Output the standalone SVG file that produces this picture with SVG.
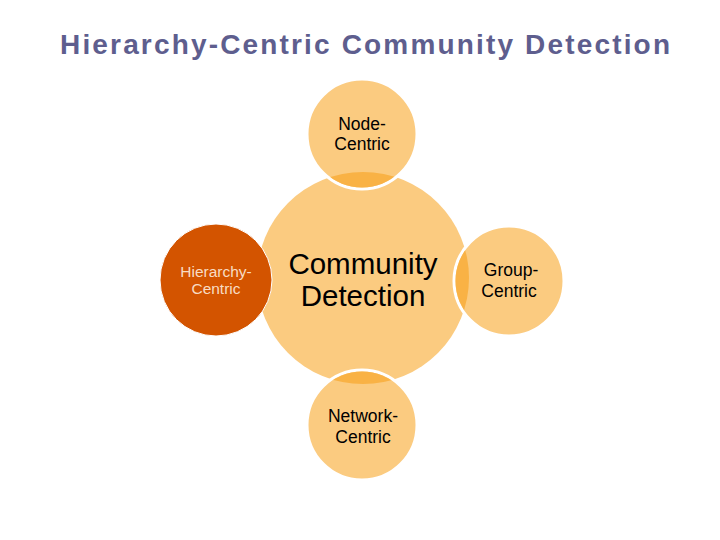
<svg xmlns="http://www.w3.org/2000/svg" width="720" height="540" viewBox="0 0 720 540">
<style>
.t{font-family:"Liberation Sans",Arial,sans-serif;text-anchor:middle;fill:#000}
.sm{fill:#FBCB80;stroke:#fff;stroke-width:3}
.ov{fill:#F9B245}
.s{font-size:17.5px}
</style>
<defs>
<clipPath id="big"><circle cx="363" cy="278" r="106"/></clipPath>
</defs>
<rect width="720" height="540" fill="#fff"/>
<text x="60" y="54" font-family="Liberation Sans,Arial,sans-serif" font-weight="bold" font-size="28" fill="#5E5E8E" textLength="610" lengthAdjust="spacing">Hierarchy-Centric Community Detection</text>
<g id="connectors"></g>
<g id="center">
<circle cx="363" cy="278" r="106" fill="#FBCB80"/>
<text class="t" x="363" y="274" font-size="29.5">Community</text>
<text class="t" x="363" y="306" font-size="29.5">Detection</text>
</g>
<g id="node-centric">
<circle class="sm" cx="362" cy="134" r="55"/>
<circle class="ov" cx="362" cy="134" r="53.5" clip-path="url(#big)"/>
<text class="t s" x="362" y="130">Node-</text>
<text class="t s" x="362" y="150">Centric</text>
</g>
<g id="group-centric">
<circle class="sm" cx="509" cy="281" r="55"/>
<circle class="ov" cx="509" cy="281" r="53.5" clip-path="url(#big)"/>
<text class="t s" x="511" y="276">Group-</text>
<text class="t s" x="509" y="297">Centric</text>
</g>
<g id="network-centric">
<circle class="sm" cx="362" cy="425" r="55"/>
<circle class="ov" cx="362" cy="425" r="53.5" clip-path="url(#big)"/>
<text class="t s" x="363" y="422">Network-</text>
<text class="t s" x="363" y="443">Centric</text>
</g>
<g id="hierarchy-centric">
<circle cx="216" cy="280" r="56" fill="#D35400" stroke="#fff" stroke-width="1"/>
<text class="t" x="216" y="277" font-size="15.5" style="fill:#F8DCC4">Hierarchy-</text>
<text class="t" x="216" y="294" font-size="15.5" style="fill:#F8DCC4">Centric</text>
</g>
</svg>
